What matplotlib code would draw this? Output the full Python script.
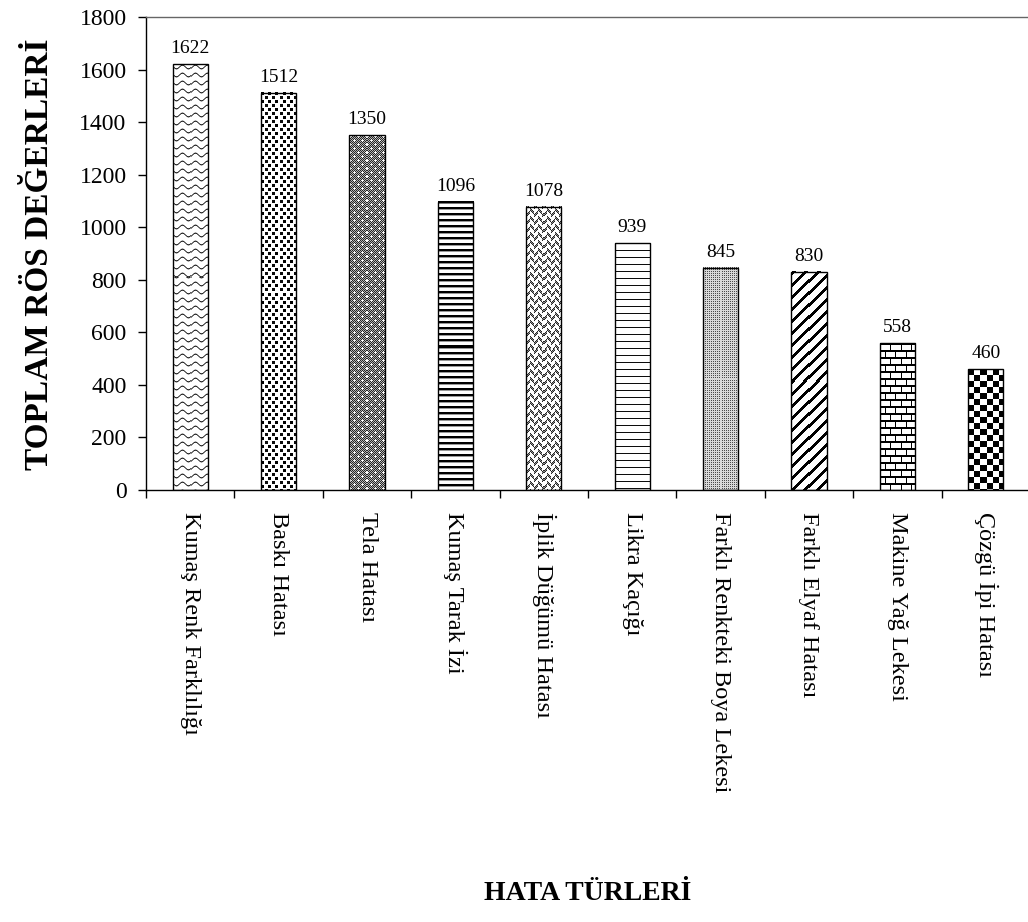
import numpy as np
import matplotlib
matplotlib.use("Agg")
import matplotlib.pyplot as plt

plt.rcParams['font.family'] = ['Liberation Serif', 'DejaVu Serif']

categories = [
    "Kumaş Renk Farklılığı",
    "Baskı Hatası",
    "Tela Hatası",
    "Kumaş Tarak İzi",
    "İplik Düğümü Hatası",
    "Likra Kaçığı",
    "Farklı Renkteki Boya Lekesi",
    "Farklı Elyaf Hatası",
    "Makine Yağ Lekesi",
    "Çözgü İpi Hatası",
]
values = [1622, 1512, 1350, 1096, 1078, 939, 845, 830, 558, 460]
yticks = [0, 200, 400, 600, 800, 1000, 1200, 1400, 1600, 1800]


# ---- pattern tiles (grey levels 0 = black, 1 = white) ----
def tile_wave():
    w, h = 12, 8
    t = np.ones((h, w))
    for c in range(w):
        yc = 3.5 + 1.8 * np.sin(2 * np.pi * c / w)
        for r in range(h):
            d = min(abs(r - yc), abs(r + h - yc), abs(r - h - yc))
            t[r, c] = np.clip(d / 1.1, 0.15, 1)
    return t


def tile_confetti():
    t = np.ones((8, 7))
    t[0:3, 0:3] = 0
    t[4:7, 4:7] = 0.05
    return t


def tile_tela():
    r, c = np.indices((8, 8))
    t = np.where((r + c) % 2 == 0, 0.15, 0.7)
    for (y, x) in [(1, 1), (5, 5)]:
        t[y, x] = 1
        t[y - 1, x] = 0.95
        t[y + 1, x] = 0.95
        t[y, x - 1] = 0.95
        t[y, x + 1] = 0.95
    return t


def tile_thick_hlines():
    t = np.ones((6, 4))
    t[0:2, :] = 0
    t[2, :] = 0.6
    return t


def tile_weave():
    r, c = np.indices((8, 8))
    a = ((c + r) % 8 < 3) & (c < 4)
    b = ((c - r) % 8 < 3) & (c >= 4)
    dark = a | b
    tex = np.where((r + c) % 2 == 0, 0.15, 0.55)
    return np.where(dark, tex, 1.0)


def tile_thin_hlines():
    t = np.ones((7, 4))
    t[0, :] = 0.05
    return t


def tile_fine_dots():
    return np.array([[0.3, 0.85], [0.85, 0.85]])


def tile_diag():
    n = 12
    r, c = np.indices((n, n))
    d = (r + c) % n
    return np.clip(np.abs(d - 2.5) - 1.5, 0, 1)


def tile_brick():
    t = np.ones((14, 10))
    t[0:2, :] = 0
    t[7:9, :] = 0
    t[0:7, 0] = 0
    t[7:14, 5] = 0
    return t


def tile_checker():
    r, c = np.indices((12, 12))
    return np.where(((r // 6) + (c // 6)) % 2 == 0, 0.0, 1.0)


tiles = [tile_wave(), tile_confetti(), tile_tela(), tile_thick_hlines(),
         tile_weave(), tile_thin_hlines(), tile_fine_dots(), tile_diag(),
         tile_brick(), tile_checker()]

W, H = 1028, 922
fig = plt.figure(figsize=(W / 100, H / 100), dpi=100)
ax = fig.add_axes([146 / W, (H - 490) / H, (1030 - 146) / W, (490 - 17) / H])

x = np.arange(len(categories))
bars = ax.bar(x, values, width=0.4, facecolor='none', edgecolor='black',
              linewidth=1.0, zorder=3)

ax.set_xlim(-0.5, len(categories) - 0.5)
ax.set_ylim(0, 1800)

# fill each bar with its texture, clipped to the bar rectangle
for bar, tile in zip(bars, tiles):
    bb = bar.get_window_extent()
    wpx, hpx = max(int(round(bb.width)), 1), max(int(round(bb.height)), 1)
    th, tw = tile.shape
    img = np.tile(tile, (hpx // th + 2, wpx // tw + 2))[:hpx, :wpx]
    x0 = bar.get_x()
    ax.imshow(img, cmap='gray', vmin=0, vmax=1, interpolation='nearest',
              extent=(x0, x0 + bar.get_width(), 0, bar.get_height()),
              aspect='auto', zorder=2, clip_path=bar, clip_on=True)

ax.set_xlim(-0.5, len(categories) - 0.5)
ax.set_ylim(0, 1800)

for xi, v in zip(x, values):
    ax.annotate(str(v), (xi, v), xytext=(0, 8), textcoords='offset points',
                ha='center', va='baseline', fontsize=14)

ax.set_yticks(yticks)
ax.tick_params(axis='y', direction='out', length=6, width=1, pad=8,
               labelsize=17)

ax.set_xticks(x)
ax.set_xticklabels(categories, rotation=270, fontsize=17.5)
ax.set_xticks(np.arange(-0.5, len(categories), 1.0), minor=True)
ax.tick_params(axis='x', which='major', length=0, pad=16)
ax.tick_params(axis='x', which='minor', direction='out', length=6, width=1)

ax.spines['right'].set_visible(False)
for s in ['left', 'bottom']:
    ax.spines[s].set_linewidth(1.0)
ax.spines['top'].set_linewidth(1.0)
ax.spines['top'].set_color('#666666')

fig.text(40 / W, 1 - 254 / H, "TOPLAM RÖS DEĞERLERİ", rotation=90,
         ha='center', va='center', fontsize=24, fontweight='bold')
fig.text(588 / W, 1 - 893 / H, "HATA TÜRLERİ", ha='center', va='center',
         fontsize=20, fontweight='bold')

fig.savefig("out.png", dpi=100)
